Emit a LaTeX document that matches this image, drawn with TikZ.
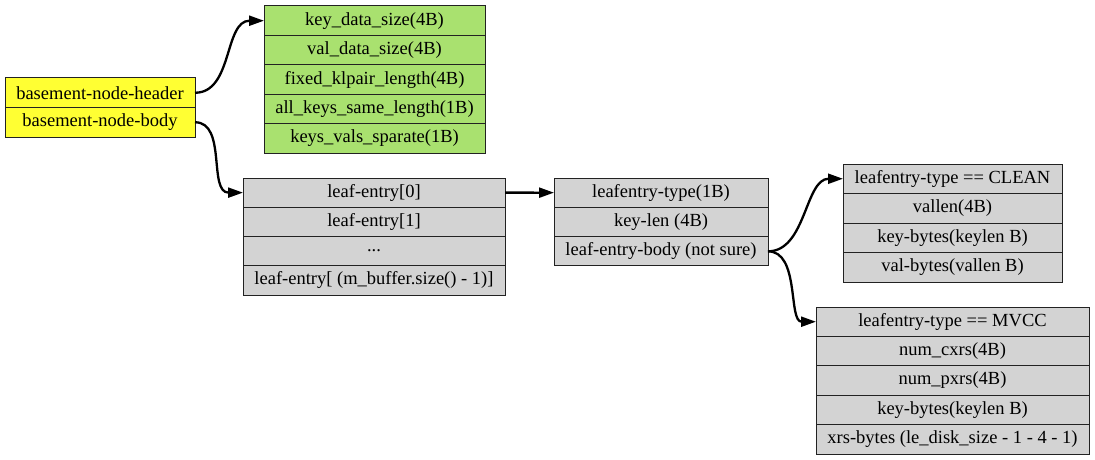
\documentclass[tikz,border=0pt]{standalone}
\usepackage{fontspec}
\setmainfont{Liberation Serif}
\usetikzlibrary{arrows.meta}
\definecolor{hdryellow}{HTML}{FFFF33}
\definecolor{hdrgreen}{HTML}{A9E16F}
\definecolor{fieldgray}{HTML}{D3D3D3}
\definecolor{rule}{HTML}{222222}
\tikzset{
  field/.style={draw=rule, line width=1pt, inner sep=0pt, outer sep=0pt, anchor=north west,
    font=\fontsize{18.5pt}{20pt}\selectfont, text=black},
  ybox/.style={field, fill=hdryellow, minimum width=190pt, minimum height=29.5pt},
  gbox/.style={field, fill=hdrgreen, minimum width=221pt, minimum height=29.4pt},
  lebox/.style={field, fill=fieldgray, minimum width=262pt, minimum height=29.25pt},
  tybox/.style={field, fill=fieldgray, minimum width=214pt, minimum height=29.33pt},
  clbox/.style={field, fill=fieldgray, minimum width=219pt, minimum height=29.5pt},
  mvbox/.style={field, fill=fieldgray, minimum width=273pt, minimum height=29.4pt},
  link/.style={line width=2.3pt, -{Triangle[length=15pt,width=10pt]}}
}
\begin{document}
\begin{tikzpicture}[x=1pt,y=-1pt]
\useasboundingbox (0,0) rectangle (1095,460);

% basement node
\node[ybox] (hdr) at (5,78) {basement-node-header};
\node[ybox] (body) at (hdr.south west) {basement-node-body};

% header fields
\node[gbox] (g1) at (264,6) {key\_data\_size(4B)};
\node[gbox] (g2) at (g1.south west) {val\_data\_size(4B)};
\node[gbox] (g3) at (g2.south west) {fixed\_klpair\_length(4B)};
\node[gbox] (g4) at (g3.south west) {all\_keys\_same\_length(1B)};
\node[gbox] (g5) at (g4.south west) {keys\_vals\_sparate(1B)};

% leaf entries
\node[lebox] (le0) at (243,178) {leaf-entry[0]};
\node[lebox] (le1) at (le0.south west) {leaf-entry[1]};
\node[lebox] (le2) at (le1.south west) {...};
\node[lebox] (le3) at (le2.south west) {leaf-entry[ (m\_buffer.size() - 1)]};

% leaf entry layout
\node[tybox] (t1) at (554,178) {leafentry-type(1B)};
\node[tybox] (t2) at (t1.south west) {key-len (4B)};
\node[tybox] (t3) at (t2.south west) {leaf-entry-body (not sure)};

% clean entry
\node[clbox] (c1) at (843,164) {leafentry-type == CLEAN};
\node[clbox] (c2) at (c1.south west) {vallen(4B)};
\node[clbox] (c3) at (c2.south west) {key-bytes(keylen B)};
\node[clbox] (c4) at (c3.south west) {val-bytes(vallen B)};

% mvcc entry
\node[mvbox] (m1) at (816,307) {leafentry-type == MVCC};
\node[mvbox] (m2) at (m1.south west) {num\_cxrs(4B)};
\node[mvbox] (m3) at (m2.south west) {num\_pxrs(4B)};
\node[mvbox] (m4) at (m3.south west) {key-bytes(keylen B)};
\node[mvbox] (m5) at (m4.south west) {xrs-bytes (le\_disk\_size - 1 - 4 - 1)};

% connectors
\draw[link] (hdr.east) .. controls +(38,0) and +(-40,0) .. (g1.west);
\draw[link] (body.east) .. controls +(32,0) and +(-35,0) .. (le0.west);
\draw[link] (le0.east) -- (t1.west);
\draw[link] (t3.east) .. controls +(38,0) and +(-38,0) .. (c1.west);
\draw[link] (t3.east) .. controls +(32,0) and +(-28,0) .. (m1.west);
\end{tikzpicture}
\end{document}
